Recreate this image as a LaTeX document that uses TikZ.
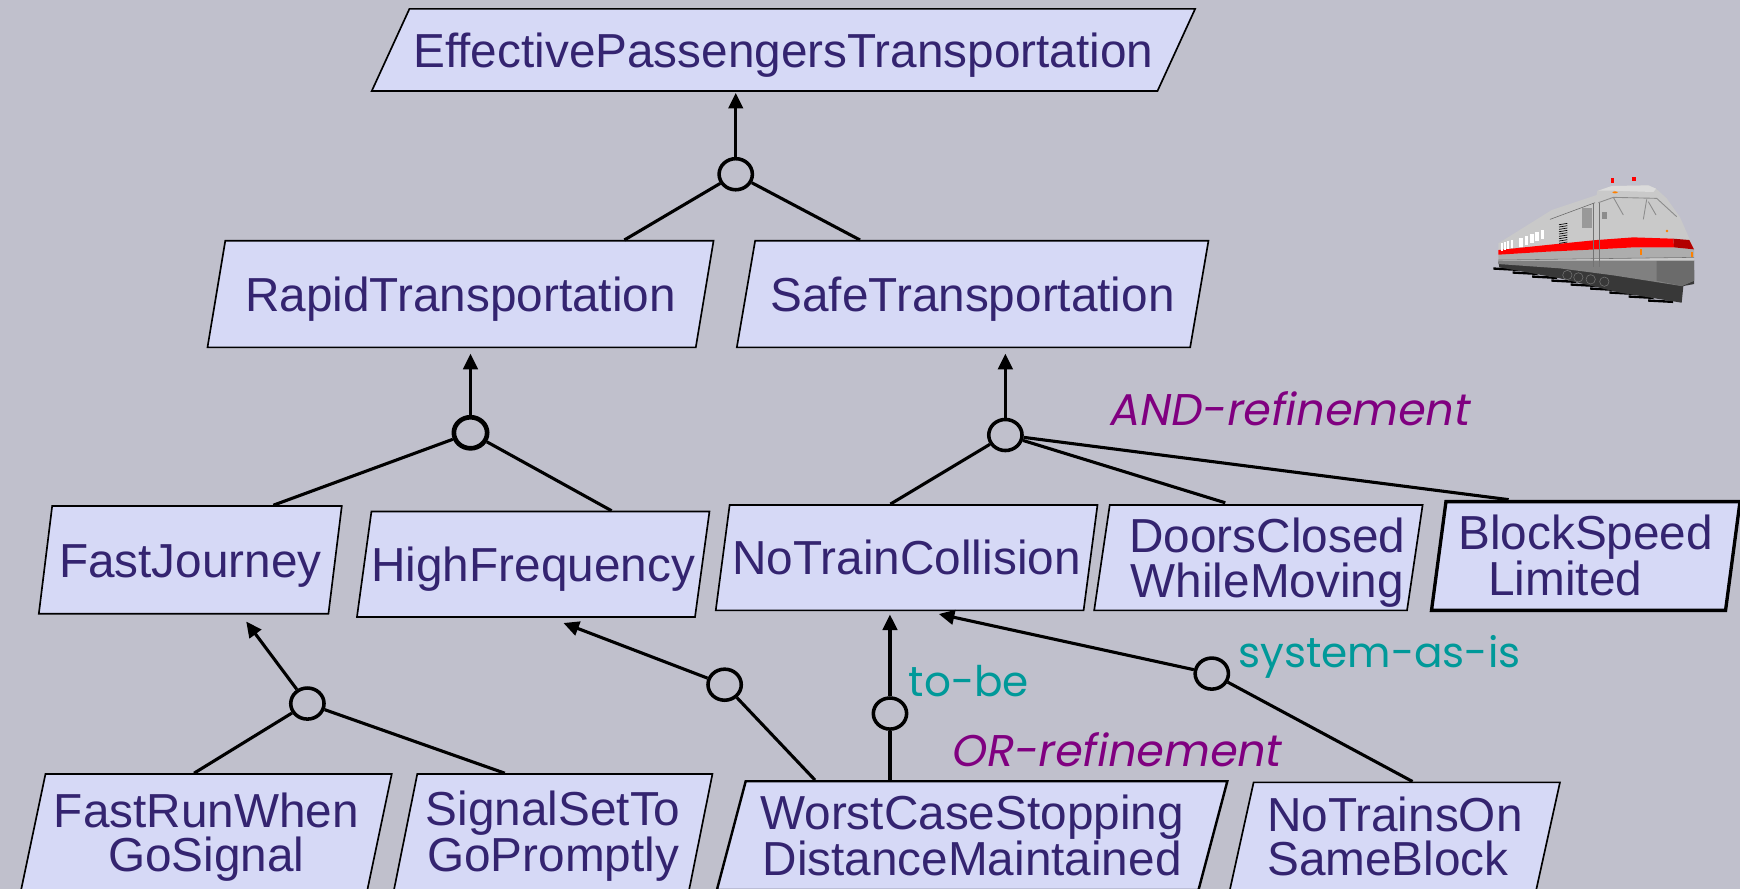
\documentclass[tikz,border=0pt]{standalone}
\usepackage{fontspec}
\setmainfont{Liberation Sans}
\newfontfamily\notefont{Poppins}
\newfontfamily\noteslantfont[FakeSlant=0.18]{Poppins}
\usetikzlibrary{shapes.geometric,arrows.meta,calc}

\definecolor{bgcol}{RGB}{192,192,204}
\definecolor{goalfill}{RGB}{214,217,246}
\definecolor{goalink}{RGB}{52,36,112}
\definecolor{refpurple}{RGB}{128,0,128}
\definecolor{refteal}{RGB}{0,153,153}

% The slant of each goal box comes from its natural height (text height + depth)
% and the side angles; the minimum height only stretches the body.
\tikzset{
  goal/.style n args={4}{trapezium, trapezium stretches body,
    trapezium left angle=#1, trapezium right angle=#2,
    minimum width=#3, minimum height=#4,
    draw=black, line width=1.5pt, fill=goalfill, text=goalink,
    inner sep=0pt, font=\fontsize{43}{40}\selectfont,
    text height=31pt, text depth=0pt},
  twolines/.style={text height=71pt, text depth=0pt},
  refc/.style={ellipse, draw=black, line width=3.2pt, minimum width=30pt,
    minimum height=28pt, inner sep=0pt},
  link/.style={draw=black, line width=2.8pt},
  uplink/.style={link, -{Triangle[length=14pt,width=13pt]}},
  andnote/.style={text=refpurple, font=\noteslantfont\fontsize{40}{44}\selectfont},
  sysnote/.style={text=refteal, font=\notefont\fontsize{38}{44}\selectfont},
}

\begin{document}
\begin{tikzpicture}[x=1pt,y=-1pt]
\useasboundingbox (0,0) rectangle (1568,801);
\fill[bgcol] (0,0) rectangle (1568,801);

% goals
\node[goal={42.4}{137.6}{742pt}{74pt}] (ept) at (706,45) {EffectivePassengersTransportation};
\node[goal={62.7}{117.3}{456pt}{96pt}] (rt) at (415,265) {RapidTransportation};
\node[goal={62.0}{118.0}{425pt}{96pt}] (st) at (876.5,265) {SafeTransportation};
\node[goal={68.8}{111.2}{273pt}{97pt}] (fj) at (171.5,504.5) {FastJourney};
\node[goal={67.2}{112.8}{315pt}{95pt}] (hf) at (480.5,508.5) {HighFrequency};
\node[goal={68.0}{112.0}{344pt}{95pt}] (ntc) at (817,502.5) {NoTrainCollision};
\node[goal={78.8}{101.2}{296pt}{95pt}, twolines, align=center] (dc) at (1134,502.5) {\hspace*{16pt}DoorsClosed\\\hspace*{16pt}WhileMoving};
\node[goal={79.6}{100.4}{278pt}{98pt}, twolines, align=left, line width=3pt] (bsl) at (1429,501) {BlockSpeed\\\hspace*{27pt}Limited};
\node[goal={72.8}{107.2}{334pt}{104.5pt}, twolines, align=center] (frw) at (186,749.75) {FastRunWhen\\GoSignal};
\node[goal={73.5}{106.5}{287pt}{104.5pt}, twolines, align=center] (sst) at (498.5,749.75) {SignalSetTo\\GoPromptly};
\node[goal={69.9}{110.1}{460pt}{98pt}, twolines, align=center, line width=2.2pt] (wcs) at (876,753) {WorstCaseStopping\\DistanceMaintained};
\node[goal={73.2}{106.8}{297.5pt}{97pt}, twolines, align=left] (ntosb) at (1257,753.5) {NoTrainsOn\\SameBlock};

% refinement nodes
\node[refc] (c1) at (663,157) {};
\node[refc, line width=4.2pt] (c2) at (424,390) {};
\node[refc] (c3) at (906,392) {};
\node[refc] (c4) at (277,634) {};
\node[refc] (c5) at (653,617) {};
\node[refc] (c6) at (802,643) {};
\node[refc] (c7) at (1092,607) {};

% links
\draw[uplink, shorten >=1pt] (c1) -- (c1 |- ept.south);
\draw[link] (c1) -- ($(rt.top left corner)!0.816!(rt.top right corner)$);
\draw[link] (c1) -- ($(st.top left corner)!0.232!(st.top right corner)$);

\draw[uplink, shorten >=5pt] (c2) -- (c2 |- rt.south);
\draw[link] (c2) -- ($(fj.top left corner)!0.762!(fj.top right corner)$);
\draw[link] (c2) -- ($(hf.top left corner)!0.709!(hf.top right corner)$);

\draw[uplink, shorten >=5pt] (c3) -- (c3 |- st.south);
\draw[link] (c3) -- ($(ntc.top left corner)!0.437!(ntc.top right corner)$);
\draw[link, shorten >=4pt] (c3) -- ($(dc.top left corner)!0.383!(dc.top right corner)$);
\draw[link, shorten >=2pt] (c3) -- ($(bsl.top left corner)!0.223!(bsl.top right corner)$);

\draw[uplink, shorten >=8pt] (c4) -- ($(fj.bottom left corner)!0.697!(fj.bottom right corner)$);
\draw[link] (c4) -- ($(frw.top left corner)!0.429!(frw.top right corner)$);
\draw[link] (c4) -- ($(sst.top left corner)!0.297!(sst.top right corner)$);

\draw[uplink, shorten >=13pt] (c5) -- ($(hf.bottom left corner)!0.571!(hf.bottom right corner)$);
\draw[link] (c5) -- ($(wcs.top left corner)!0.145!(wcs.top right corner)$);

\draw[uplink, shorten >=3pt] (c6) -- (c6 |- ntc.south);
\draw[link] (c6) -- (c6 |- wcs.north);

\draw[uplink, shorten >=12pt] (c7) -- ($(ntc.bottom left corner)!0.571!(ntc.bottom right corner)$);
\draw[link] (c7) -- ($(ntosb.top left corner)!0.518!(ntosb.top right corner)$);

% annotations
\node[andnote] (andlbl) at (1161,368) {AND-refinement};
\node[andnote] (orlbl) at (1005,676) {OR-refinement};
\node[sysnote] (tobe) at (873,614) {to-be};
\node[sysnote] (asis) at (1243,592) {system-as-is};

% locomotive
\begin{scope}[shift={(1333.7,144.2)}, x=0.3004pt, y=-0.3004pt]
  % shadow stripes
  \foreach \i in {0,...,8}
    \fill[black] ({40+58*\i},{322+12*\i}) -- ++(75,4) -- ++(0,7) -- ++(-75,-4) -- cycle;
  % undercarriage
  \fill[black!78] (55,305) -- (642,330) -- (642,372) -- (610,378) -- (605,428) -- (420,398) -- (240,355) -- (58,322) -- cycle;
  % skirt
  \fill[black!50] (55,298) -- (642,300) -- (642,362) -- (605,378) -- (400,346) -- (240,325) -- (55,312) -- cycle;
  \fill[black!58] (530,302) -- (642,302) -- (642,362) -- (605,378) -- (530,362) -- cycle;
  % body
  \fill[black!21] (55,250) -- (100,222) -- (215,150) -- (350,105) -- (352,92) -- (395,78) -- (505,76) -- (528,86) -- (560,115) -- (600,172) -- (630,240) -- (642,268) -- (642,302) -- (55,302) -- cycle;
  \fill[black!14] (355,92) -- (395,78) -- (505,76) -- (528,86) -- (520,96) -- (400,92) -- cycle;
  % lower band
  \fill[black!32] (55,284) -- (200,275) -- (350,268) -- (460,262) -- (580,262) -- (642,268) -- (642,292) -- (350,296) -- (55,300) -- cycle;
  \draw[black!55, line width=0.5pt] (55,300) -- (350,296) -- (642,292);
  % red stripe
  \fill[red] (55,270) -- (200,255) -- (350,240) -- (460,232) -- (580,236) -- (582,262) -- (460,262) -- (350,268) -- (200,275) -- (55,284) -- cycle;
  \fill[red!70!black] (580,236) -- (628,240) -- (642,268) -- (582,262) -- cycle;
  % roof edge
  \draw[black!60, line width=0.5pt] (210,178) -- (345,128);
  % windows
  \foreach \i in {0,...,4}
    \fill[white] ({118+16*\i},{234-6*\i}) rectangle ++(11,28);
  \foreach \i in {0,...,3}
    \fill[white] ({62+10*\i},{250-3*\i}) rectangle ++(6,22);
  % grille
  \foreach \k in {0,...,8}
    \draw[black, line width=0.6pt] (237,{194+7*\k}) -- (262,{190+7*\k});
  % cab
  \fill[black!40] (305,145) rectangle (335,205);
  \fill[black!45] (365,155) rectangle (380,178);
  \draw[black!45, line width=0.8pt] (355,128) -- (400,112) -- (530,115) -- (590,170);
  \draw[black!45, line width=0.8pt] (400,112) -- (430,165);
  \draw[black!45, line width=0.8pt] (500,118) -- (490,178);
  \draw[black!45, line width=0.8pt] (505,125) -- (528,165);
  \draw[black!55, line width=1pt] (340,130) -- (340,322);
  \draw[black!55, line width=1pt] (358,128) -- (358,322);
  % wheels
  \foreach \u/\v in {262/345, 295/352, 332/358, 373/365}
    \draw[black!55, line width=0.5pt] (\u,\v) circle[radius=14];
  % lamps
  \fill[red] (393,53) rectangle (403,68);
  \fill[red] (457,50) rectangle (467,62);
  \fill[orange] (405,97) ellipse[x radius=8, y radius=3];
  \fill[orange] (561,213) circle[radius=4];
  \fill[orange] (480,268) rectangle (486,284);
  \fill[orange] (634,275) rectangle (640,290);
\end{scope}
\end{tikzpicture}
\end{document}
